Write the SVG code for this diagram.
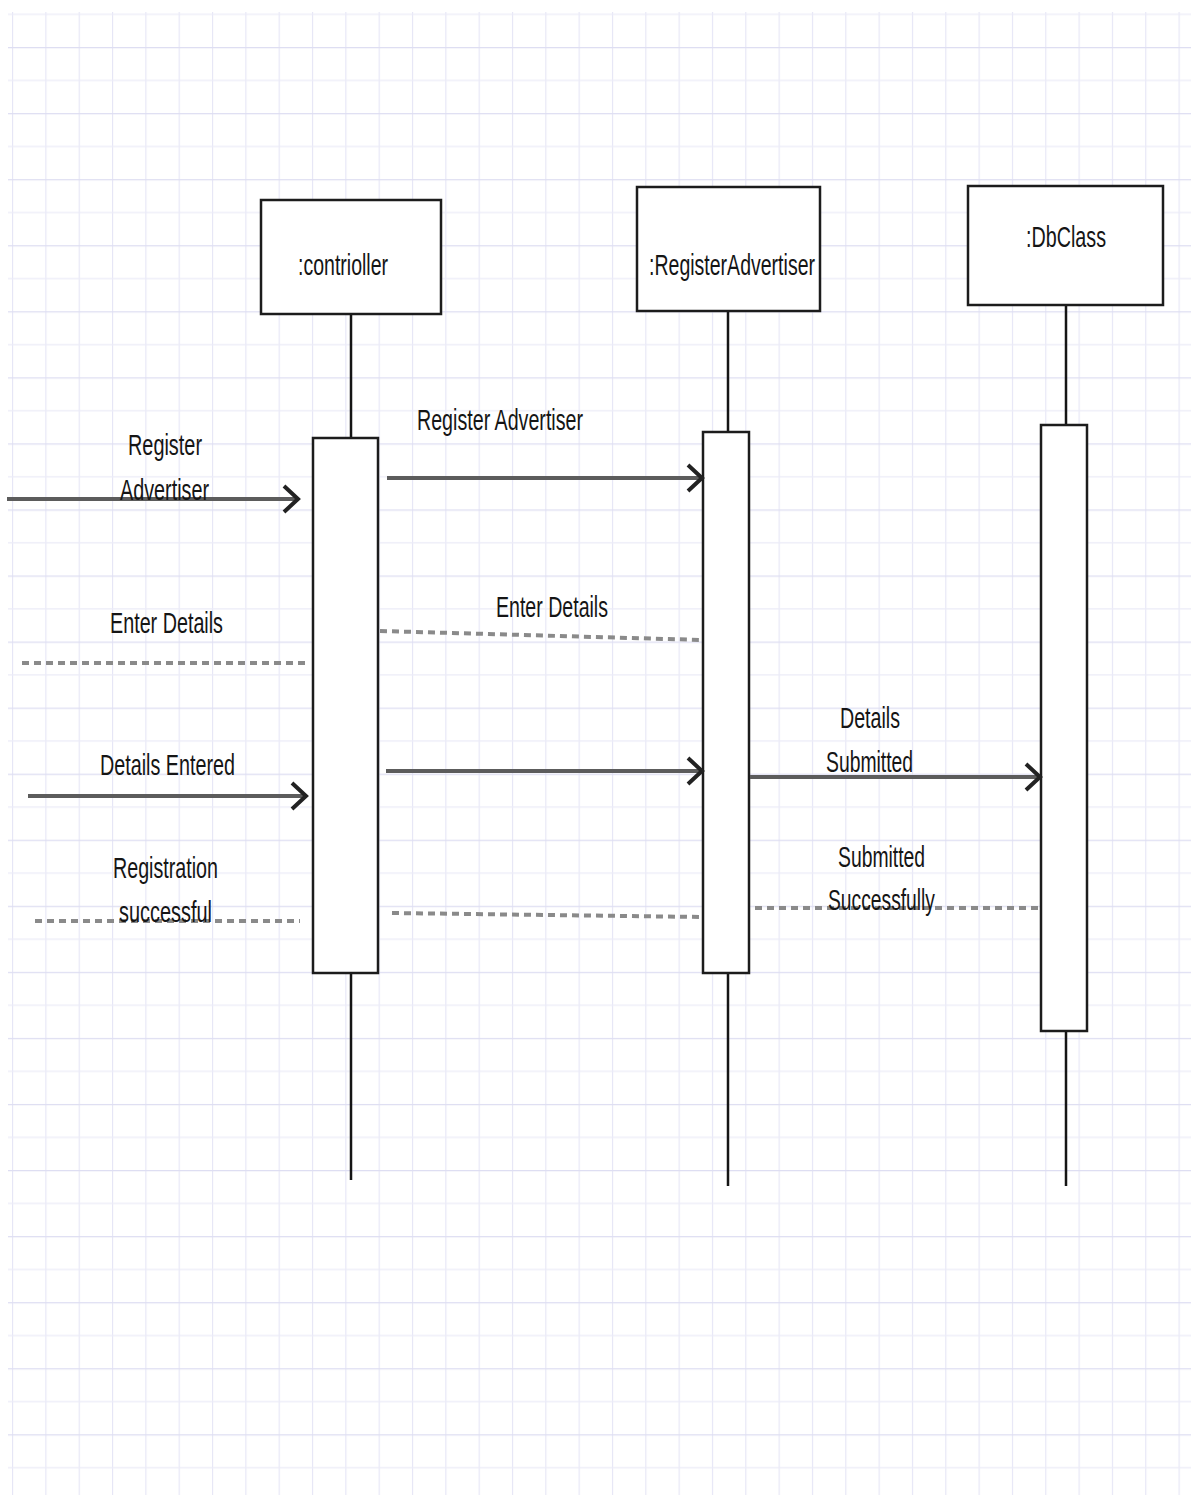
<svg xmlns="http://www.w3.org/2000/svg" width="1197" height="1498" viewBox="0 0 1197 1498">
  <style>
    .box { fill: #ffffff; stroke: #1c1c1c; stroke-width: 2.5; }
    .life { stroke: #151515; stroke-width: 2.5; fill: none; }
    .msg { stroke: #5c5c5c; stroke-width: 4; fill: none; marker-end: url(#chev); }
    .ret { stroke: #8a8a8a; stroke-width: 4; fill: none; stroke-dasharray: 7 5; }
    .lbl { font-family: "Liberation Sans", Arial, sans-serif; font-size: 30px; fill: #151515; }
  </style>
  <defs>
    <pattern id="grid" patternUnits="userSpaceOnUse" x="12" y="47" width="33.33" height="66.06">
      <rect width="33.33" height="66.06" fill="#ffffff"/>
      <line x1="0.5" y1="0" x2="0.5" y2="66.06" stroke="#e6e6f6" stroke-width="1.2"/>
      <line x1="0" y1="0.5" x2="33.33" y2="0.5" stroke="#dedef2" stroke-width="1.6"/>
      <line x1="0" y1="33.5" x2="33.33" y2="33.5" stroke="#ececf8" stroke-width="1.2"/>
    </pattern>
    <marker id="chev" viewBox="0 0 20 30" refX="17" refY="15" markerWidth="20" markerHeight="30" markerUnits="userSpaceOnUse" orient="auto">
      <path d="M3,2 L17,15 L3,28" fill="none" stroke="#222222" stroke-width="4"/>
    </marker>
  </defs>

  <!-- page background with grid paper -->
  <rect x="0" y="0" width="1197" height="1498" fill="#ffffff"/>
  <rect x="8" y="12" width="1183" height="1483" fill="url(#grid)"/>

  <!-- lifelines -->
  <g id="lifelines">
    <line class="life" x1="351" y1="314" x2="351" y2="1180"/>
    <line class="life" x1="728" y1="311" x2="728" y2="1186"/>
    <line class="life" x1="1066" y1="305" x2="1066" y2="1186"/>
  </g>

  <g id="controller">
    <rect class="box" x="261" y="200" width="180" height="114"/>
    <text class="lbl" x="298" y="275" textLength="90" lengthAdjust="spacingAndGlyphs">:contrioller</text>
    <rect class="box" x="313" y="438" width="65" height="535"/>
  </g>

  <g id="registerAdvertiser">
    <rect class="box" x="637" y="187" width="183" height="124"/>
    <text class="lbl" x="649" y="275" textLength="166" lengthAdjust="spacingAndGlyphs">:RegisterAdvertiser</text>
    <rect class="box" x="703" y="432" width="46" height="541"/>
  </g>

  <g id="dbClass">
    <rect class="box" x="968" y="186" width="195" height="119"/>
    <text class="lbl" x="1026" y="247" textLength="80" lengthAdjust="spacingAndGlyphs">:DbClass</text>
    <rect class="box" x="1041" y="425" width="46" height="606"/>
  </g>

  <!-- messages between lifelines -->
  <g id="connectors">
    <line class="msg" x1="7" y1="499" x2="298" y2="499"/>
    <line class="msg" x1="387" y1="478" x2="702" y2="478"/>
    <line class="ret" x1="380" y1="631" x2="703" y2="640"/>
    <line class="ret" x1="22" y1="663" x2="307" y2="663"/>
    <line class="msg" x1="28" y1="796" x2="306" y2="796"/>
    <line class="msg" x1="386" y1="771" x2="702" y2="771"/>
    <line class="msg" x1="750" y1="777" x2="1040" y2="777"/>
    <line class="ret" x1="755" y1="908" x2="1040" y2="908"/>
    <line class="ret" x1="392" y1="913" x2="703" y2="917"/>
    <line class="ret" x1="35" y1="921" x2="300" y2="921"/>
  </g>

  <g id="labels">
    <text class="lbl" x="128" y="455" textLength="74" lengthAdjust="spacingAndGlyphs">Register</text>
    <text class="lbl" x="120" y="500" textLength="89" lengthAdjust="spacingAndGlyphs">Advertiser</text>
    <text class="lbl" x="417" y="430" textLength="166" lengthAdjust="spacingAndGlyphs">Register Advertiser</text>
    <text class="lbl" x="496" y="617" textLength="112" lengthAdjust="spacingAndGlyphs">Enter Details</text>
    <text class="lbl" x="110" y="633" textLength="113" lengthAdjust="spacingAndGlyphs">Enter Details</text>
    <text class="lbl" x="100" y="775" textLength="135" lengthAdjust="spacingAndGlyphs">Details Entered</text>
    <text class="lbl" x="840" y="728" textLength="60" lengthAdjust="spacingAndGlyphs">Details</text>
    <text class="lbl" x="826" y="772" textLength="87" lengthAdjust="spacingAndGlyphs">Submitted</text>
    <text class="lbl" x="838" y="867" textLength="87" lengthAdjust="spacingAndGlyphs">Submitted</text>
    <text class="lbl" x="828" y="910" textLength="107" lengthAdjust="spacingAndGlyphs">Successfully</text>
    <text class="lbl" x="113" y="878" textLength="105" lengthAdjust="spacingAndGlyphs">Registration</text>
    <text class="lbl" x="119" y="922" textLength="93" lengthAdjust="spacingAndGlyphs">successful</text>
  </g>
</svg>
